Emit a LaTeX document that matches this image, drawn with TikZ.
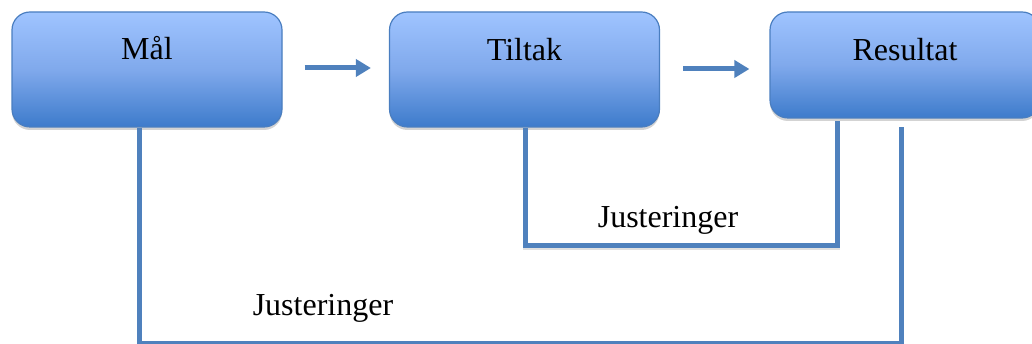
\documentclass[tikz,border=0pt]{standalone}
\usepackage{fontspec}
\setmainfont{Liberation Serif}
\usetikzlibrary{arrows.meta,shadows}
\definecolor{boxtop}{HTML}{9FC4FF}
\definecolor{boxmid}{HTML}{80A9EC}
\definecolor{boxbot}{HTML}{3D7BCB}
\definecolor{boxedge}{HTML}{4A7EC0}
\definecolor{linecol}{HTML}{4F81BD}
\tikzset{
  box/.style={draw=boxedge, line width=1.2pt, rounded corners=18pt,
    top color=boxtop, bottom color=boxbot, middle color=boxmid,
    minimum width=270pt, minimum height=115pt, inner sep=0pt,
    drop shadow={opacity=0.35, shadow xshift=0pt, shadow yshift=-3pt}},
  lbl/.style={anchor=base, inner sep=0pt, font=\fontsize{32}{38}\selectfont},
  arr/.style={draw=linecol, line width=5pt, -{Triangle[length=15pt,width=17pt]}},
  conn/.style={draw=linecol, line width=5pt,
    preaction={draw=black!35, line width=5pt, opacity=0.35, transform canvas={yshift=-2pt}}}
}
\begin{document}
\begin{tikzpicture}[x=1pt,y=-1pt]
\useasboundingbox (0,0) rectangle (1032,344);
\node[box] (mal) at (147,69.5) {};
\node[box] (til) at (524.5,69.5) {};
\node[box, minimum height=106pt] (res) at (905,65) {};
\node[lbl] (malt) at ([yshift=-48pt]mal.north) {Mål};
\node[lbl] (tilt) at ([yshift=-49pt]til.north) {Tiltak};
\node[lbl] (rest) at ([yshift=-49pt]res.north) {Resultat};
\draw[arr] ([xshift=22pt,yshift=1.5pt]mal.east) -- ([xshift=-18pt,yshift=1.5pt]til.west);
\draw[arr] ([xshift=23pt,yshift=0.5pt]til.east) -- ([xshift=-20pt,yshift=-4pt]res.west);
\draw[conn] ([xshift=0.5pt]til.south) -- ++(0,118) -| ([xshift=-68pt,yshift=-2pt]res.south);
\draw[conn] ([xshift=-8pt]mal.south) -- ++(0,215.5) -| ([xshift=-4pt,yshift=-8pt]res.south);
\node[lbl] (j1) at (668,228) {Justeringer};
\node[lbl] (j2) at (323,315) {Justeringer};
\end{tikzpicture}
\end{document}
